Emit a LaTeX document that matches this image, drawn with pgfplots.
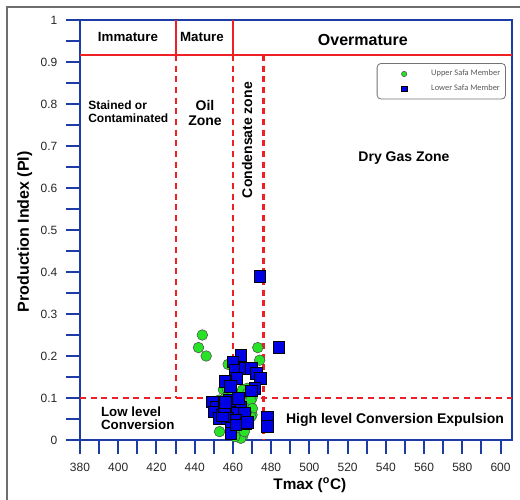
\documentclass[border=0pt]{standalone}
\usepackage{fontspec}
\setmainfont{Liberation Sans}
\newfontfamily\legfont{Carlito}
\usepackage{pgfplots}
\pgfplotsset{compat=1.18}

\definecolor{axblue}{RGB}{30,60,165}
\definecolor{zonered}{RGB}{238,32,36}
\definecolor{ptgreen}{RGB}{40,226,40}
\definecolor{ptblue}{RGB}{0,0,228}
\definecolor{framegray}{RGB}{110,110,110}

% a single small marker in the legend
\pgfplotsset{dotlegend/.style={legend image code/.code={\path (0pt,0pt) (36pt,0pt); \draw[##1, mark size=2pt] plot coordinates {(18pt,0pt)};}}}
% heavy blue tick marks
\pgfplotsset{
  every tick/.append style={color=axblue, line width=1.5pt},
  every major tick/.append style={color=axblue, line width=1.5pt},
  every minor tick/.append style={color=axblue, line width=1.5pt},
}

% Upper Safa Member: Tmax (C), PI
\pgfplotstableread{
x y
444 0.25
442 0.22
446 0.20
457.5 0.18
473 0.22
474 0.19
467.5 0.123
455 0.12
457 0.122
460 0.115
470 0.10
454 0.09
469 0.083
470 0.06
453 0.02
463 0.012
465 0.008
464 0.032
465 0.052
452.8 0.095
465 0.119
467.6 0.111
469.4 0.095
470.2 0.075
469.4 0.055
465 0.036
464.1 0.004
462.4 0.020
459.8 0.032
458 0.105
467 0.065
456 0.10
461 0.008
466 0.020
}\uppersafa

% Lower Safa Member: Tmax (C), PI
\pgfplotstableread{
x y
474 0.39
484 0.22
464.1 0.202
459.9 0.186
461.1 0.167
466.3 0.171
469.8 0.171
472.4 0.159
474.2 0.147
462 0.147
455.8 0.140
471.5 0.123
469.8 0.117
458.5 0.127
449.3 0.091
451 0.077
450.2 0.067
458 0.095
460.6 0.083
464.1 0.079
458 0.067
462.4 0.063
465.9 0.063
452.8 0.052
457.1 0.052
461.5 0.047
466.7 0.040
458.9 0.028
458.9 0.016
454.6 0.059
461.5 0.036
478 0.055
478 0.032
467.6 0.043
455.4 0.080
463 0.100
456 0.090
}\lowersafa

\begin{document}
\begin{tikzpicture}
\useasboundingbox (-60pt,-44.25pt) rectangle (330pt,330pt);
% window frame
\draw[framegray, line width=0.8pt] (-54.75pt,-60pt) -- (-54.75pt,324.75pt) -- (340pt,324.75pt);
\begin{axis}[
  at={(0,0)}, anchor=south west,
  scale only axis, width=324pt, height=315pt,
  xmin=380, xmax=606, ymin=0, ymax=1,
  axis line style={draw=axblue, line width=1.5pt},
  tick pos=left, tick align=outside,
  xtick={380,400,...,600}, minor xtick={390,410,...,590},
  ytick={0,0.1,0.2,0.3,0.4,0.5,0.6,0.7,0.8,0.9,1},
  minor ytick={0.05,0.15,0.25,0.35,0.45,0.55,0.65,0.75,0.85,0.95},
  major tick length=10.5pt, minor tick length=10.5pt,
  xtick style={color=axblue, line width=1.5pt},
  ytick style={color=axblue, line width=1.5pt},
  ticklabel style={font=\fontsize{9}{11}\selectfont, text=black!85},
  /pgf/number format/assume math mode=true,
  yticklabel style={xshift=-3pt, /pgf/number format/.cd, fixed, precision=1},
  xticklabel style={yshift=-3pt, /pgf/number format/.cd, set thousands separator={}},
  xlabel={Tmax (\textsuperscript{o}C)},
  ylabel={Production Index (PI)},
  label style={font=\bfseries\fontsize{11.5}{13}\selectfont},
  ylabel style={font=\bfseries\fontsize{12}{14}\selectfont},
  xlabel style={at={(axis description cs:0.532,-0.108)}, anchor=center},
  ylabel style={at={(axis description cs:-0.128,0.496)}, anchor=center},
  clip=false,
  legend style={at={(0.986,0.8976)}, anchor=north east, draw=black!55,
    rounded corners=3pt, line width=0.6pt, fill=white,
    font=\legfont\fontsize{6.3}{7.5}\selectfont, text=black!65,
    inner xsep=2pt, inner ysep=3pt, row sep=1pt, cells={anchor=west}},
]
% zone boundaries
\draw[zonered, line width=1.5pt] (axis cs:380,0.917) -- (axis cs:606,0.917);
\draw[zonered, line width=1.5pt] (axis cs:430,0.917) -- (axis cs:430,1);
\draw[zonered, line width=1.5pt] (axis cs:460,0.917) -- (axis cs:460,1);
\draw[zonered, line width=1.6pt, dash pattern=on 4.5pt off 3.5pt] (axis cs:430,0.917) -- (axis cs:430,0.1);
\draw[zonered, line width=1.6pt, dash pattern=on 4.5pt off 3.5pt] (axis cs:460,0.917) -- (axis cs:460,0.1);
\draw[zonered, line width=1.6pt, dash pattern=on 4.5pt off 3.5pt] (axis cs:476,0.917) -- (axis cs:476,0);
\draw[zonered, line width=1.6pt, dash pattern=on 4.5pt off 3.5pt] (axis cs:380,0.1) -- (axis cs:606,0.1);

% zone names
\node[font=\bfseries\fontsize{10}{12}\selectfont] at (axis cs:405.1,0.960) {Immature};
\node[font=\bfseries\fontsize{10}{12}\selectfont] at (axis cs:443.8,0.960) {Mature};
\node[font=\bfseries\fontsize{12}{14}\selectfont] at (axis cs:528,0.952) {Overmature};
\node[font=\bfseries\fontsize{9}{9.75}\selectfont, align=left, anchor=west, inner sep=0pt] at (axis cs:384.2,0.781) {Stained or\\Contaminated};
\node[font=\bfseries\fontsize{10.5}{11.25}\selectfont, align=center] at (axis cs:445.4,0.779) {Oil\\Zone};
\node[font=\bfseries\fontsize{10.5}{12}\selectfont, rotate=90] at (axis cs:467.4,0.714) {Condensate zone};
\node[font=\bfseries\fontsize{10.5}{12}\selectfont] at (axis cs:549.5,0.671) {Dry Gas Zone};
\node[font=\bfseries\fontsize{10}{10}\selectfont, align=left, anchor=west, inner sep=0pt] at (axis cs:390.9,0.052) {Low level\\Conversion};
\node[font=\bfseries\fontsize{10.5}{12}\selectfont] at (axis cs:544.8,0.0476) {High level Conversion Expulsion};

\addplot[only marks, mark=*, mark size=4pt,
  mark options={draw=black!70, fill=ptgreen, line width=0.4pt}, dotlegend]
  table[x=x, y=y] {\uppersafa};
\addlegendentry{Upper Safa Member}
\addplot[only marks, mark=square*, mark size=4.4pt,
  mark options={draw=black, fill=ptblue, line width=0.45pt}, dotlegend]
  table[x=x, y=y] {\lowersafa};
\addlegendentry{Lower Safa Member}
\end{axis}
\end{tikzpicture}
\end{document}
